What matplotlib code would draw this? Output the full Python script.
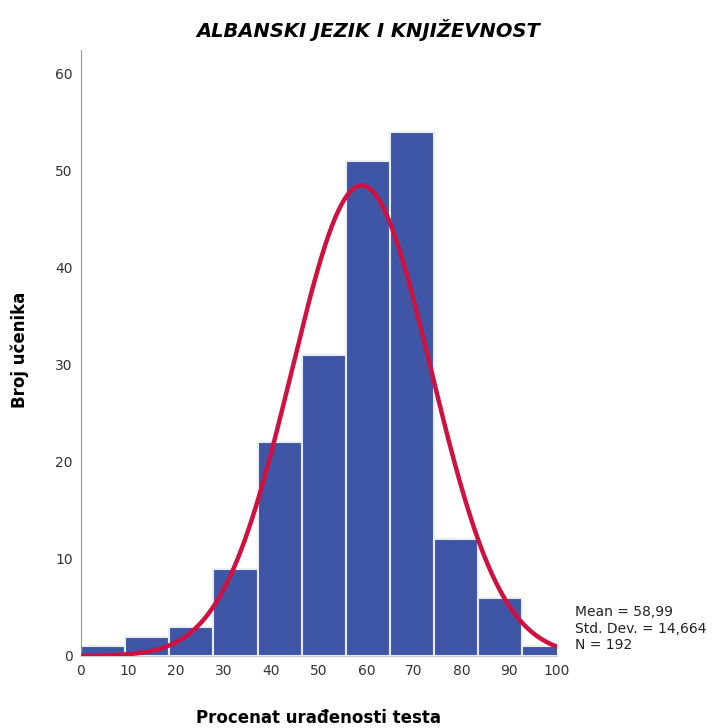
import numpy as np
import matplotlib
matplotlib.use("Agg")
import matplotlib.pyplot as plt

counts = [1, 2, 3, 9, 22, 31, 51, 54, 12, 6, 1]
bin_width = 9.28
mean = 58.99
sd = 14.664
n = 192
xticks = [0, 10, 20, 30, 40, 50, 60, 70, 80, 90, 100]
yticks = [0, 10, 20, 30, 40, 50, 60]

fig = plt.figure(figsize=(7.13, 7.28), dpi=100)
ax = fig.add_axes([0.1136, 0.099, 0.667, 0.832])

edges = np.arange(len(counts)) * bin_width
ax.bar(edges, counts, width=bin_width, align='edge', color='#3f56a6',
       edgecolor='#e8eef8', linewidth=1.5, zorder=2)

xs = np.linspace(0, 100, 400)
ys = n * bin_width / (sd * np.sqrt(2 * np.pi)) * np.exp(-0.5 * ((xs - mean) / sd) ** 2)
ax.plot(xs, ys, color='#d0103f', linewidth=3.2, zorder=3, solid_capstyle='round')

ax.set_xlim(0, 100)
ax.set_ylim(0, 62.4)
ax.set_xticks(xticks)
ax.set_yticks(yticks)
ax.tick_params(length=0, labelsize=10, colors='#333333', pad=6)
for s in ['top', 'right']:
    ax.spines[s].set_visible(False)
ax.spines['left'].set_color('#999999')
ax.spines['bottom'].set_color('#cccccc')

fig.text(0.516, 1 - 30 / 728, 'ALBANSKI JEZIK I KNJIŽEVNOST', fontsize=14,
         fontweight='bold', fontstyle='italic', ha='center', va='center')
ax.set_xlabel('Procenat urađenosti testa', fontsize=12, fontweight='bold', labelpad=22)
fig.text(20 / 713, 0.519, 'Broj učenika', fontsize=12, fontweight='bold',
         rotation=90, ha='center', va='center')

fig.text(0.806, 0.104, 'Mean = 58,99\nStd. Dev. = 14,664\nN = 192', fontsize=10,
         color='#222222', va='bottom', ha='left', linespacing=1.25)

fig.savefig('out.png', dpi=100, facecolor='white')
